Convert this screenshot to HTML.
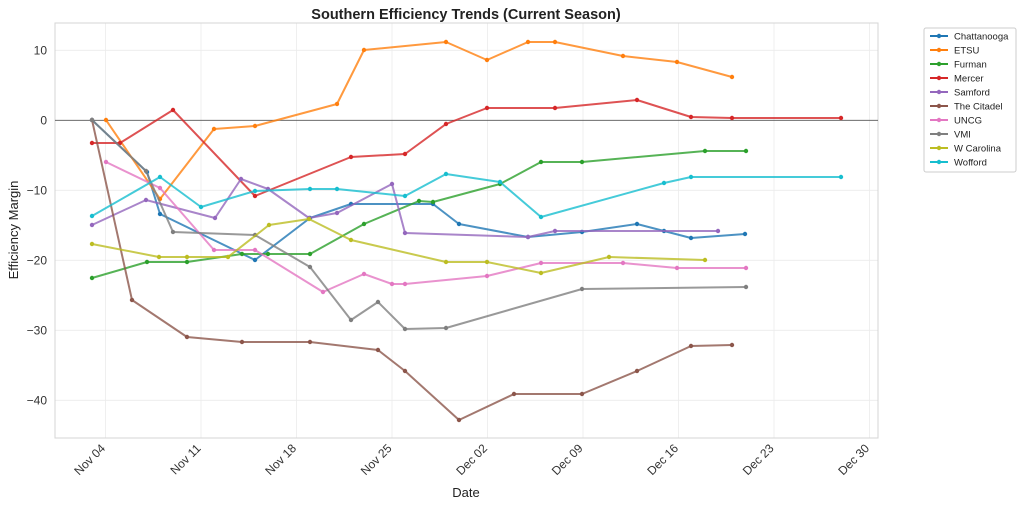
<!DOCTYPE html>
<html><head><meta charset="utf-8"><style>
body{margin:0;background:#fff;}
text{font-family:"Liberation Sans","DejaVu Sans",sans-serif;}
</style></head><body>
<svg width="1024" height="506" xmlns="http://www.w3.org/2000/svg">
<defs>
<marker id="m0" markerWidth="6" markerHeight="6" refX="3" refY="3" markerUnits="userSpaceOnUse"><circle cx="3" cy="3" r="2.2" fill="#1f77b4"/></marker>
<marker id="m1" markerWidth="6" markerHeight="6" refX="3" refY="3" markerUnits="userSpaceOnUse"><circle cx="3" cy="3" r="2.2" fill="#ff7f0e"/></marker>
<marker id="m2" markerWidth="6" markerHeight="6" refX="3" refY="3" markerUnits="userSpaceOnUse"><circle cx="3" cy="3" r="2.2" fill="#2ca02c"/></marker>
<marker id="m3" markerWidth="6" markerHeight="6" refX="3" refY="3" markerUnits="userSpaceOnUse"><circle cx="3" cy="3" r="2.2" fill="#d62728"/></marker>
<marker id="m4" markerWidth="6" markerHeight="6" refX="3" refY="3" markerUnits="userSpaceOnUse"><circle cx="3" cy="3" r="2.2" fill="#9467bd"/></marker>
<marker id="m5" markerWidth="6" markerHeight="6" refX="3" refY="3" markerUnits="userSpaceOnUse"><circle cx="3" cy="3" r="2.2" fill="#8c564b"/></marker>
<marker id="m6" markerWidth="6" markerHeight="6" refX="3" refY="3" markerUnits="userSpaceOnUse"><circle cx="3" cy="3" r="2.2" fill="#e377c2"/></marker>
<marker id="m7" markerWidth="6" markerHeight="6" refX="3" refY="3" markerUnits="userSpaceOnUse"><circle cx="3" cy="3" r="2.2" fill="#7f7f7f"/></marker>
<marker id="m8" markerWidth="6" markerHeight="6" refX="3" refY="3" markerUnits="userSpaceOnUse"><circle cx="3" cy="3" r="2.2" fill="#bcbd22"/></marker>
<marker id="m9" markerWidth="6" markerHeight="6" refX="3" refY="3" markerUnits="userSpaceOnUse"><circle cx="3" cy="3" r="2.2" fill="#17becf"/></marker>
</defs>
<rect width="1024" height="506" fill="#fff"/>
<g stroke="#ebebeb" stroke-width="0.8">
<line x1="105.5" y1="23" x2="105.5" y2="438"/><line x1="201" y1="23" x2="201" y2="438"/><line x1="296.5" y1="23" x2="296.5" y2="438"/><line x1="392" y1="23" x2="392" y2="438"/><line x1="487.5" y1="23" x2="487.5" y2="438"/><line x1="583" y1="23" x2="583" y2="438"/><line x1="678.5" y1="23" x2="678.5" y2="438"/><line x1="774" y1="23" x2="774" y2="438"/><line x1="869.5" y1="23" x2="869.5" y2="438"/>
<line x1="55" y1="50.3" x2="878" y2="50.3"/><line x1="55" y1="190.3" x2="878" y2="190.3"/><line x1="55" y1="260.3" x2="878" y2="260.3"/><line x1="55" y1="330.3" x2="878" y2="330.3"/><line x1="55" y1="400.3" x2="878" y2="400.3"/>
</g>
<rect x="55" y="23" width="823" height="415" fill="none" stroke="#d5d5d5" stroke-width="1"/>
<line x1="55" y1="120.3" x2="878" y2="120.3" stroke="#555" stroke-width="0.9"/>
<g font-size="12" fill="#333" text-anchor="end">
<text x="47" y="54.5">10</text><text x="47" y="124.5">0</text><text x="47" y="194.5">−10</text><text x="47" y="264.5">−20</text><text x="47" y="334.5">−30</text><text x="47" y="404.5">−40</text>
</g>
<g font-size="12" fill="#333" text-anchor="end">
<text transform="translate(106,449) rotate(-45)">Nov 04</text>
<text transform="translate(201.5,449) rotate(-45)">Nov 11</text>
<text transform="translate(297,449) rotate(-45)">Nov 18</text>
<text transform="translate(392.5,449) rotate(-45)">Nov 25</text>
<text transform="translate(488,449) rotate(-45)">Dec 02</text>
<text transform="translate(583.5,449) rotate(-45)">Dec 09</text>
<text transform="translate(679,449) rotate(-45)">Dec 16</text>
<text transform="translate(774.5,449) rotate(-45)">Dec 23</text>
<text transform="translate(870,449) rotate(-45)">Dec 30</text>
</g>
<text x="466" y="497" font-size="13" fill="#222" text-anchor="middle">Date</text>
<text transform="translate(18,230) rotate(-90)" font-size="13" fill="#222" text-anchor="middle">Efficiency Margin</text>
<text x="466" y="19" font-size="14.5" font-weight="bold" fill="#222" text-anchor="middle">Southern Efficiency Trends (Current Season)</text>
<g fill="none" stroke-width="2" stroke-opacity="0.8" stroke-linejoin="round">
<polyline stroke="#1f77b4" marker-start="url(#m0)" marker-mid="url(#m0)" marker-end="url(#m0)" points="92,120 147,172 160,214 255,260 310,218 351,204 433,204 459,224 528,237 582,232 637,224 664,231 691,238 745,234"/>
<polyline stroke="#ff7f0e" marker-start="url(#m1)" marker-mid="url(#m1)" marker-end="url(#m1)" points="106,120 160,199 214,129 255,126 337,104 364,50 446,42 487,60 528,42 555,42 623,56 677,62 732,77"/>
<polyline stroke="#2ca02c" marker-start="url(#m2)" marker-mid="url(#m2)" marker-end="url(#m2)" points="92,278 147,262 187,262 242,254 268,254 310,254 364,224 419,201 433,202 500,184 541,162 582,162 705,151 746,151"/>
<polyline stroke="#d62728" marker-start="url(#m3)" marker-mid="url(#m3)" marker-end="url(#m3)" points="92,143 120,143 173,110 255,196 351,157 405,154 446,124 487,108 555,108 637,100 691,117 732,118 841,118"/>
<polyline stroke="#9467bd" marker-start="url(#m4)" marker-mid="url(#m4)" marker-end="url(#m4)" points="92,225 146,200 215,218 241,179 268,189 309,218 337,213 392,184 405,233 528,237 555,231 718,231"/>
<polyline stroke="#8c564b" marker-start="url(#m5)" marker-mid="url(#m5)" marker-end="url(#m5)" points="92,120 132,300 187,337 242,342 310,342 378,350 405,371 459,420 514,394 582,394 637,371 691,346 732,345"/>
<polyline stroke="#e377c2" marker-start="url(#m6)" marker-mid="url(#m6)" marker-end="url(#m6)" points="106,162 160,188 214,250 255,250 323,292 364,274 392,284 405,284 487,276 541,263 623,263 677,268 746,268"/>
<polyline stroke="#7f7f7f" marker-start="url(#m7)" marker-mid="url(#m7)" marker-end="url(#m7)" points="92,120 146,171 173,232 255,235 310,267 351,320 378,302 405,329 446,328 582,289 746,287"/>
<polyline stroke="#bcbd22" marker-start="url(#m8)" marker-mid="url(#m8)" marker-end="url(#m8)" points="92,244 159,257 187,257 228,257 269,225 309,219 351,240 446,262 487,262 541,273 609,257 705,260"/>
<polyline stroke="#17becf" marker-start="url(#m9)" marker-mid="url(#m9)" marker-end="url(#m9)" points="92,216 160,177 201,207 255,191 310,189 337,189 405,196 446,174 500,182 541,217 664,183 691,177 841,177"/>
</g>
<rect x="924" y="28" width="92" height="144" fill="#fff" stroke="#ccc" rx="2"/>
<g font-size="9.5" fill="#222">
<g stroke-width="2"><line x1="930" y1="36" x2="948" y2="36" stroke="#1f77b4"/><line x1="930" y1="50" x2="948" y2="50" stroke="#ff7f0e"/><line x1="930" y1="64" x2="948" y2="64" stroke="#2ca02c"/><line x1="930" y1="78" x2="948" y2="78" stroke="#d62728"/><line x1="930" y1="92" x2="948" y2="92" stroke="#9467bd"/><line x1="930" y1="106" x2="948" y2="106" stroke="#8c564b"/><line x1="930" y1="120" x2="948" y2="120" stroke="#e377c2"/><line x1="930" y1="134" x2="948" y2="134" stroke="#7f7f7f"/><line x1="930" y1="148" x2="948" y2="148" stroke="#bcbd22"/><line x1="930" y1="162" x2="948" y2="162" stroke="#17becf"/></g>
<g><circle cx="939" cy="36" r="2.2" fill="#1f77b4"/><circle cx="939" cy="50" r="2.2" fill="#ff7f0e"/><circle cx="939" cy="64" r="2.2" fill="#2ca02c"/><circle cx="939" cy="78" r="2.2" fill="#d62728"/><circle cx="939" cy="92" r="2.2" fill="#9467bd"/><circle cx="939" cy="106" r="2.2" fill="#8c564b"/><circle cx="939" cy="120" r="2.2" fill="#e377c2"/><circle cx="939" cy="134" r="2.2" fill="#7f7f7f"/><circle cx="939" cy="148" r="2.2" fill="#bcbd22"/><circle cx="939" cy="162" r="2.2" fill="#17becf"/></g>
<text x="954" y="39.5">Chattanooga</text><text x="954" y="53.5">ETSU</text><text x="954" y="67.5">Furman</text><text x="954" y="81.5">Mercer</text><text x="954" y="95.5">Samford</text><text x="954" y="109.5">The Citadel</text><text x="954" y="123.5">UNCG</text><text x="954" y="137.5">VMI</text><text x="954" y="151.5">W Carolina</text><text x="954" y="165.5">Wofford</text>
</g>
</svg>
</body></html>
